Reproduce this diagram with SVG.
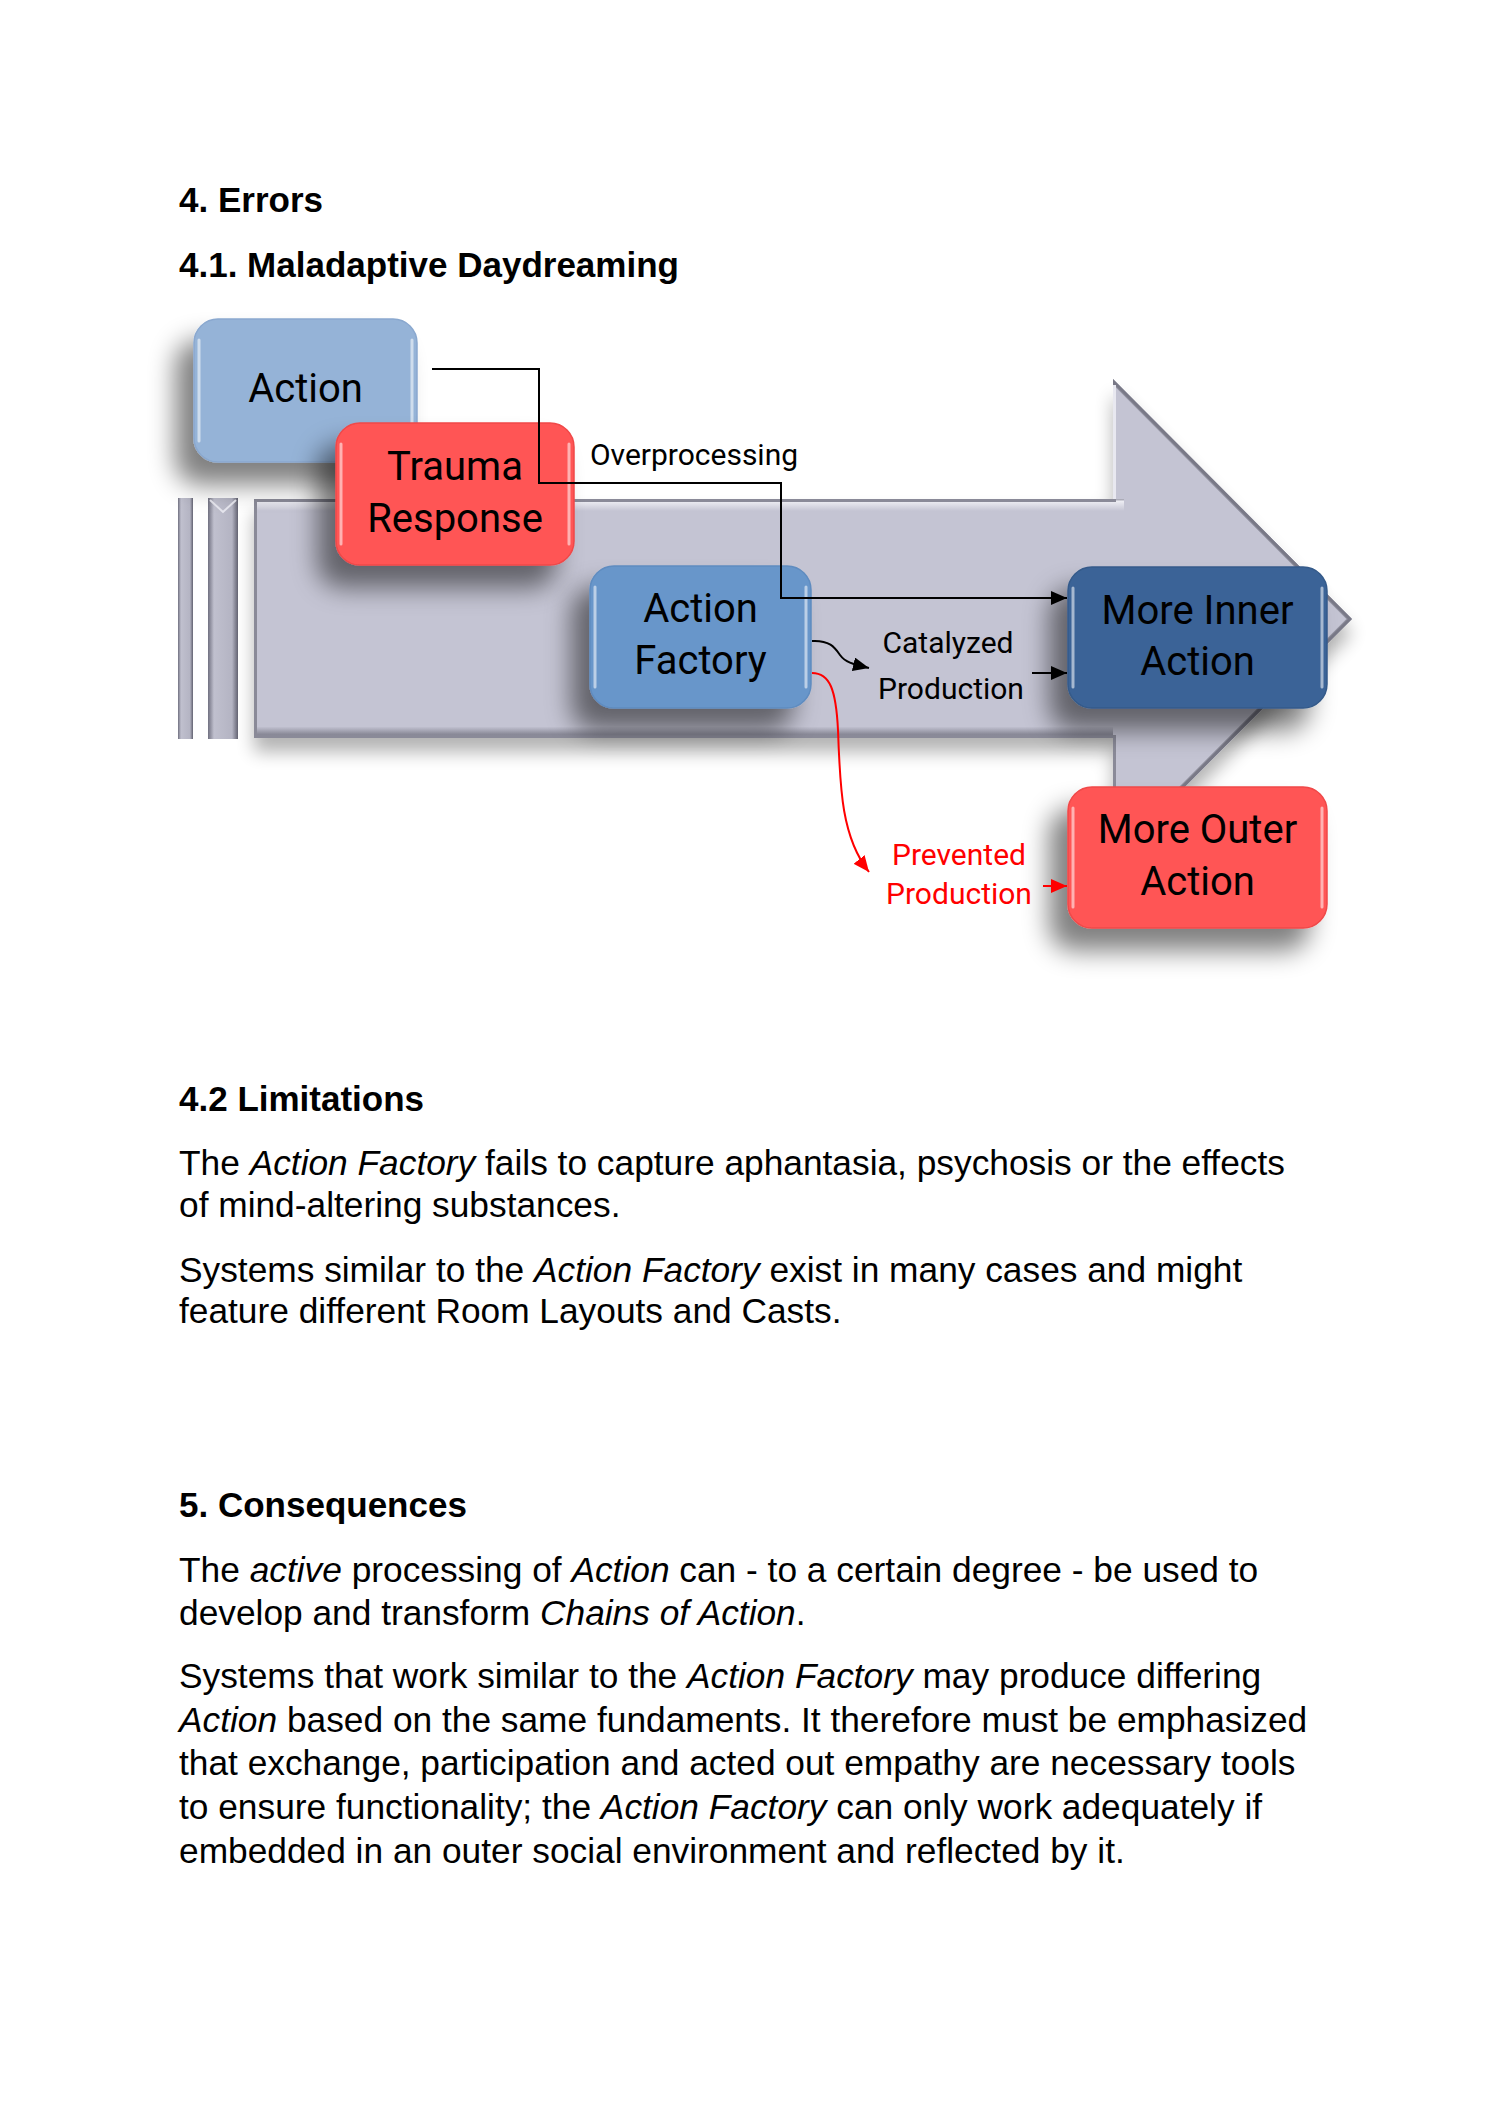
<svg xmlns="http://www.w3.org/2000/svg" width="1500" height="2121" viewBox="0 0 1500 2121">
<defs>
<style>
.h{font-family:"Liberation Sans",Arial,sans-serif;font-weight:bold;font-size:35px;fill:#000}
.b{font-family:"Liberation Sans",Arial,sans-serif;font-size:35.3px;fill:#000}
.i{font-style:italic}
.nt{font-family:Roboto,"Liberation Sans",sans-serif;font-size:40px;fill:#000;text-anchor:middle}
.lb{font-family:Roboto,"Liberation Sans",sans-serif;font-size:30px;fill:#000;text-anchor:middle}
.red{fill:#ff0000}
.hl{fill:none;stroke:#ffffff;stroke-opacity:0.55;stroke-width:3;stroke-linecap:round}
.con{fill:none;stroke:#000;stroke-width:2}
.conr{fill:none;stroke:#ff0000;stroke-width:2}
</style>
<filter id="sh" x="-40%" y="-40%" width="180%" height="200%">
<feGaussianBlur in="SourceAlpha" stdDeviation="13"/>
<feOffset dx="-18" dy="22"/>
<feComponentTransfer><feFuncA type="linear" slope="0.5"/></feComponentTransfer>
<feMerge><feMergeNode/><feMergeNode in="SourceGraphic"/></feMerge>
</filter>
<filter id="ash" x="-10%" y="-10%" width="120%" height="130%">
<feGaussianBlur in="SourceAlpha" stdDeviation="9"/>
<feOffset dx="0" dy="14"/>
<feComponentTransfer><feFuncA type="linear" slope="0.3"/></feComponentTransfer>
<feMerge><feMergeNode/><feMergeNode in="SourceGraphic"/></feMerge>
</filter>
<clipPath id="ac"><path d="M254,499 H1113 V379 L1352,619 L1113,859 V738 H254 Z"/></clipPath>
<linearGradient id="topband" x1="0" y1="0" x2="0" y2="1">
<stop offset="0" stop-color="#9a9aa8"/><stop offset="0.2" stop-color="#ececf2"/><stop offset="1" stop-color="#c4c4d3"/>
</linearGradient>
<linearGradient id="botband" x1="0" y1="0" x2="0" y2="1">
<stop offset="0" stop-color="#c0c0cf"/><stop offset="0.6" stop-color="#8e8e9c"/><stop offset="1" stop-color="#777785"/>
</linearGradient>
<linearGradient id="bar" x1="0" y1="0" x2="1" y2="0">
<stop offset="0" stop-color="#707080"/><stop offset="0.2" stop-color="#c0c0ce"/><stop offset="0.8" stop-color="#b4b4c3"/><stop offset="1" stop-color="#626271"/>
</linearGradient>
<marker id="ab" markerUnits="userSpaceOnUse" markerWidth="16" markerHeight="14" refX="16" refY="7" orient="auto">
<path d="M0,0 L16,7 L0,14 Z" fill="#000"/>
</marker>
<marker id="ar" markerUnits="userSpaceOnUse" markerWidth="16" markerHeight="14" refX="16" refY="7" orient="auto">
<path d="M0,0 L16,7 L0,14 Z" fill="#ff0000"/>
</marker>
</defs>
<rect width="1500" height="2121" fill="#ffffff"/>

<g id="headings">
<text class="h" x="179" y="212">4. Errors</text>
<text class="h" x="179" y="277">4.1. Maladaptive Daydreaming</text>
</g>

<g id="big-arrow">
<path d="M254,499 H1113 V379 L1352,619 L1113,859 V738 H254 Z" fill="#c4c4d3" filter="url(#ash)"/>
<g clip-path="url(#ac)">
<rect x="254" y="499" width="870" height="12" fill="url(#topband)"/>
<rect x="254" y="727" width="859" height="11" fill="url(#botband)"/>
<path d="M254,499 H1113 V379 L1352,619 L1113,859 V738 H254 Z" fill="none" stroke="#8a8a98" stroke-width="6"/>
<path d="M1113,379 L1352,619 L1113,859" fill="none" stroke="#6e6e7c" stroke-width="8" stroke-opacity="0.6"/>
<path d="M1113,385 V499" fill="none" stroke="#e8e8f0" stroke-width="6"/>
</g>
</g>

<g id="bars">
<rect x="178" y="498" width="15" height="241" fill="url(#bar)"/>
<rect x="208" y="498" width="30" height="241" fill="url(#bar)"/>
<path d="M210,500 L223,512 L236,500" fill="none" stroke="#e6e6ee" stroke-width="2"/>
</g>

<g id="action">
<rect x="194" y="319" width="223" height="143" rx="24" fill="#95b3d7" stroke="#8aa8cf" stroke-width="1.5" filter="url(#sh)"/>
<path class="hl" d="M199,340 V441 M412,340 V441"/>
<text class="nt" x="305.5" y="402">Action</text>
</g>

<g id="trauma-response">
<rect x="336" y="423" width="238" height="142" rx="24" fill="#ff5555" stroke="#f04848" stroke-width="1.5" filter="url(#sh)"/>
<path class="hl" d="M341,444 V544 M569,444 V544"/>
<text class="nt" x="455" y="480">Trauma</text>
<text class="nt" x="455" y="532">Response</text>
</g>

<g id="action-factory">
<rect x="590" y="566" width="221" height="142" rx="24" fill="#6896ca" stroke="#5f8cc0" stroke-width="1.5" filter="url(#sh)"/>
<path class="hl" d="M595,587 V687 M806,587 V687"/>
<text class="nt" x="700.5" y="622">Action</text>
<text class="nt" x="700.5" y="674">Factory</text>
</g>

<g id="more-inner-action">
<rect x="1068" y="567" width="259" height="141" rx="24" fill="#3b6497" stroke="#345a8a" stroke-width="1.5" filter="url(#sh)"/>
<path class="hl" d="M1073,588 V687 M1322,588 V687"/>
<text class="nt" x="1197.5" y="624">More Inner</text>
<text class="nt" x="1197.5" y="675">Action</text>
</g>

<g id="more-outer-action">
<rect x="1068" y="787" width="259" height="141" rx="24" fill="#ff5555" stroke="#f04848" stroke-width="1.5" filter="url(#sh)"/>
<path class="hl" d="M1073,808 V907 M1322,808 V907"/>
<text class="nt" x="1197.5" y="843">More Outer</text>
<text class="nt" x="1197.5" y="895">Action</text>
</g>

<g id="connectors">
<path class="con" d="M432,369 H539 V483 H781 V598 H1067" marker-end="url(#ab)"/>
<path class="con" d="M812,641 C830,640 835,648 840,655 C845,662 852,664 869,668" marker-end="url(#ab)"/>
<path class="con" d="M1032,673 H1067" marker-end="url(#ab)"/>
<path class="conr" d="M812,673 C830,673 836,690 838,730 C840,790 842,838 869,872" marker-end="url(#ar)"/>
<path class="conr" d="M1043,886 H1067" marker-end="url(#ar)"/>
</g>

<g id="labels">
<text class="lb" x="694" y="465">Overprocessing</text>
<text class="lb" x="948" y="653">Catalyzed</text>
<text class="lb" x="951" y="699">Production</text>
<text class="lb red" x="959" y="865">Prevented</text>
<text class="lb red" x="959" y="904">Production</text>
</g>

<g id="text-body">
<text class="h" x="179" y="1111">4.2 Limitations</text>
<text class="b" x="179" y="1175">The <tspan class="i">Action Factory</tspan> fails to capture aphantasia, psychosis or the effects</text>
<text class="b" x="179" y="1217">of mind-altering substances.</text>
<text class="b" x="179" y="1282">Systems similar to the <tspan class="i">Action Factory</tspan> exist in many cases and might</text>
<text class="b" x="179" y="1323">feature different Room Layouts and Casts.</text>
<text class="h" x="179" y="1517">5. Consequences</text>
<text class="b" x="179" y="1582">The <tspan class="i">active</tspan> processing of <tspan class="i">Action</tspan> can - to a certain degree - be used to</text>
<text class="b" x="179" y="1625">develop and transform <tspan class="i">Chains of Action</tspan>.</text>
<text class="b" x="179" y="1688">Systems that work similar to the <tspan class="i">Action Factory</tspan> may produce differing</text>
<text class="b" x="179" y="1732"><tspan class="i">Action</tspan> based on the same fundaments. It therefore must be emphasized</text>
<text class="b" x="179" y="1775">that exchange, participation and acted out empathy are necessary tools</text>
<text class="b" x="179" y="1819">to ensure functionality; the <tspan class="i">Action Factory</tspan> can only work adequately if</text>
<text class="b" x="179" y="1863">embedded in an outer social environment and reflected by it.</text>
</g>
</svg>
